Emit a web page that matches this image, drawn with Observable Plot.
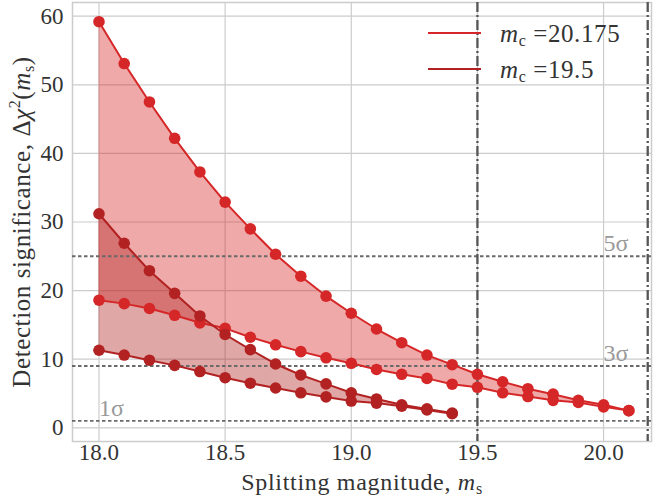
<!DOCTYPE html>
<html>
<head>
<meta charset="utf-8">
<script src="https://cdn.jsdelivr.net/npm/d3@7"></script>
<script src="https://cdn.jsdelivr.net/npm/@observablehq/plot@0.6"></script>
<style>
  html, body { margin: 0; padding: 0; background: #fff; }
  #chart svg { display: block; }
  #chart svg, #chart svg text { font-family: "Liberation Serif", "DejaVu Serif", serif !important; }
</style>
</head>
<body>
<div id="chart"></div>
<script>
// ---- data ----
const msA = [18.0,18.1,18.2,18.3,18.4,18.5,18.6,18.7,18.8,18.9,19.0,19.1,19.2,19.3,19.4,19.5,19.6,19.7,19.8,19.9,20.0,20.1];
const upperA = [59.2,53.1,47.5,42.2,37.3,32.9,29.0,25.3,22.1,19.2,16.7,14.4,12.4,10.6,9.2,7.8,6.7,5.7,4.9,4.0,3.35,2.5];
const lowerA = [18.6,18.1,17.4,16.4,15.3,14.5,13.2,12.1,11.1,10.2,9.4,8.5,7.8,7.2,6.35,5.9,5.1,4.55,4.0,3.7,3.05,2.5];
const msB = [18.0,18.1,18.2,18.3,18.4,18.5,18.6,18.7,18.8,18.9,19.0,19.1,19.2,19.3,19.4];
const upperB = [31.2,26.9,22.9,19.6,16.3,13.6,11.4,9.3,7.7,6.4,5.1,4.2,3.35,2.75,2.15];
const lowerB = [11.3,10.6,9.85,9.1,8.2,7.3,6.5,5.8,5.1,4.5,3.9,3.6,3.15,2.6,2.05];
const mcValues = [20.175, 19.5];
const mcLabels = ["20.175", "19.5"];
const sigmaLevels = [1, 9, 25];
const sigmaLabels = ["1σ", "3σ", "5σ"];
const xTicks = [18.0, 18.5, 19.0, 19.5, 20.0];
const yTicks = [0, 10, 20, 30, 40, 50, 60];

const colA = "#d62728";
const colB = "#b22222";
const FONT = "Liberation Serif, DejaVu Serif, serif";

const A = msA.map((m, i) => ({m, lo: lowerA[i], hi: upperA[i]}));
const B = msB.map((m, i) => ({m, lo: lowerB[i], hi: upperB[i]}));
const sig = sigmaLevels.map((v, i) => ({v, label: sigmaLabels[i], x: i === 0 ? 18.0 : 20.0}));

const chart = Plot.plot({
  width: 653,
  height: 497,
  marginLeft: 72,
  marginRight: 2,
  marginTop: 2,
  marginBottom: 56,
  style: {fontSize: "23px", color: "#333", background: "#fff"},
  x: {domain: [17.895, 20.19], ticks: xTicks, tickFormat: d3.format(".1f"), tickSize: 0, tickPadding: 2, label: null},
  y: {domain: [-2, 62], ticks: yTicks, tickSize: 0, tickPadding: 9, label: null},
  marks: [
    Plot.gridX(xTicks, {stroke: "#cccccc", strokeOpacity: 1, strokeWidth: 1.2}),
    Plot.gridY(yTicks, {stroke: "#cccccc", strokeOpacity: 1, strokeWidth: 1.2}),
    Plot.frame({stroke: "#cccccc", strokeWidth: 1.5}),
    Plot.areaY(A, {x: "m", y1: "lo", y2: "hi", fill: colA, fillOpacity: 0.4}),
    Plot.areaY(B, {x: "m", y1: "lo", y2: "hi", fill: colB, fillOpacity: 0.4}),
    Plot.ruleY(sig, {y: "v", stroke: "#6a6a6a", strokeWidth: 1.9, strokeDasharray: "3.5,2.5"}),
    Plot.ruleX(mcValues, {stroke: "#555555", strokeWidth: 2.3, strokeDasharray: "10,3,2,3"}),
    Plot.text(sig, {x: "x", y: "v", text: "label", dy: -13, dx: 0, textAnchor: "start", fill: "#999", fontSize: 24}),
    Plot.line(A, {x: "m", y: "hi", stroke: colA, strokeWidth: 2}),
    Plot.line(A, {x: "m", y: "lo", stroke: colA, strokeWidth: 2}),
    Plot.dot(A, {x: "m", y: "hi", r: 5.8, fill: colA}),
    Plot.dot(A, {x: "m", y: "lo", r: 5.8, fill: colA}),
    Plot.line(B, {x: "m", y: "hi", stroke: colB, strokeWidth: 2}),
    Plot.line(B, {x: "m", y: "lo", stroke: colB, strokeWidth: 2}),
    Plot.dot(B, {x: "m", y: "hi", r: 5.8, fill: colB}),
    Plot.dot(B, {x: "m", y: "lo", r: 5.8, fill: colB})
  ]
});

const svg = d3.select(chart).attr("font-family", FONT);
// legend
const leg = svg.append("g").attr("text-anchor", "start");
[colA, colB].forEach((c, i) => {
  const y = 33 + i * 36;
  leg.append("line").attr("x1", 428).attr("x2", 481).attr("y1", y).attr("y2", y)
    .attr("stroke", c).attr("stroke-width", 2);
  const t = leg.append("text").attr("x", 500).attr("y", y + 9)
    .attr("fill", "#333").attr("font-size", 25).attr("letter-spacing", 0.6);
  t.append("tspan").attr("font-style", "italic").text("m");
  t.append("tspan").attr("font-size", 16).attr("dy", 4).text("c");
  t.append("tspan").attr("dy", -4).text(" =" + mcLabels[i]);
});
// axis labels
const xl = svg.append("text").attr("x", 362).attr("y", 490).attr("text-anchor", "middle")
  .attr("fill", "#333").attr("font-size", 24).attr("letter-spacing", 0.7);
xl.append("tspan").text("Splitting magnitude, ");
xl.append("tspan").attr("font-style", "italic").text("m");
xl.append("tspan").attr("font-size", 16).attr("dy", 4).text("s");

const yl = svg.append("text").attr("transform", "translate(30,222) rotate(-90)").attr("text-anchor", "middle")
  .attr("fill", "#333").attr("font-size", 25).attr("letter-spacing", 0.6);
yl.append("tspan").text("Detection significance, Δ");
yl.append("tspan").attr("font-style", "italic").text("χ");
yl.append("tspan").attr("font-size", 16).attr("dy", -10).text("2");
yl.append("tspan").attr("dy", 10).text("(");
yl.append("tspan").attr("font-style", "italic").text("m");
yl.append("tspan").attr("font-size", 16).attr("dy", 4).text("s");
yl.append("tspan").attr("dy", -4).text(")");

document.getElementById("chart").appendChild(chart);
</script>
</body>
</html>
